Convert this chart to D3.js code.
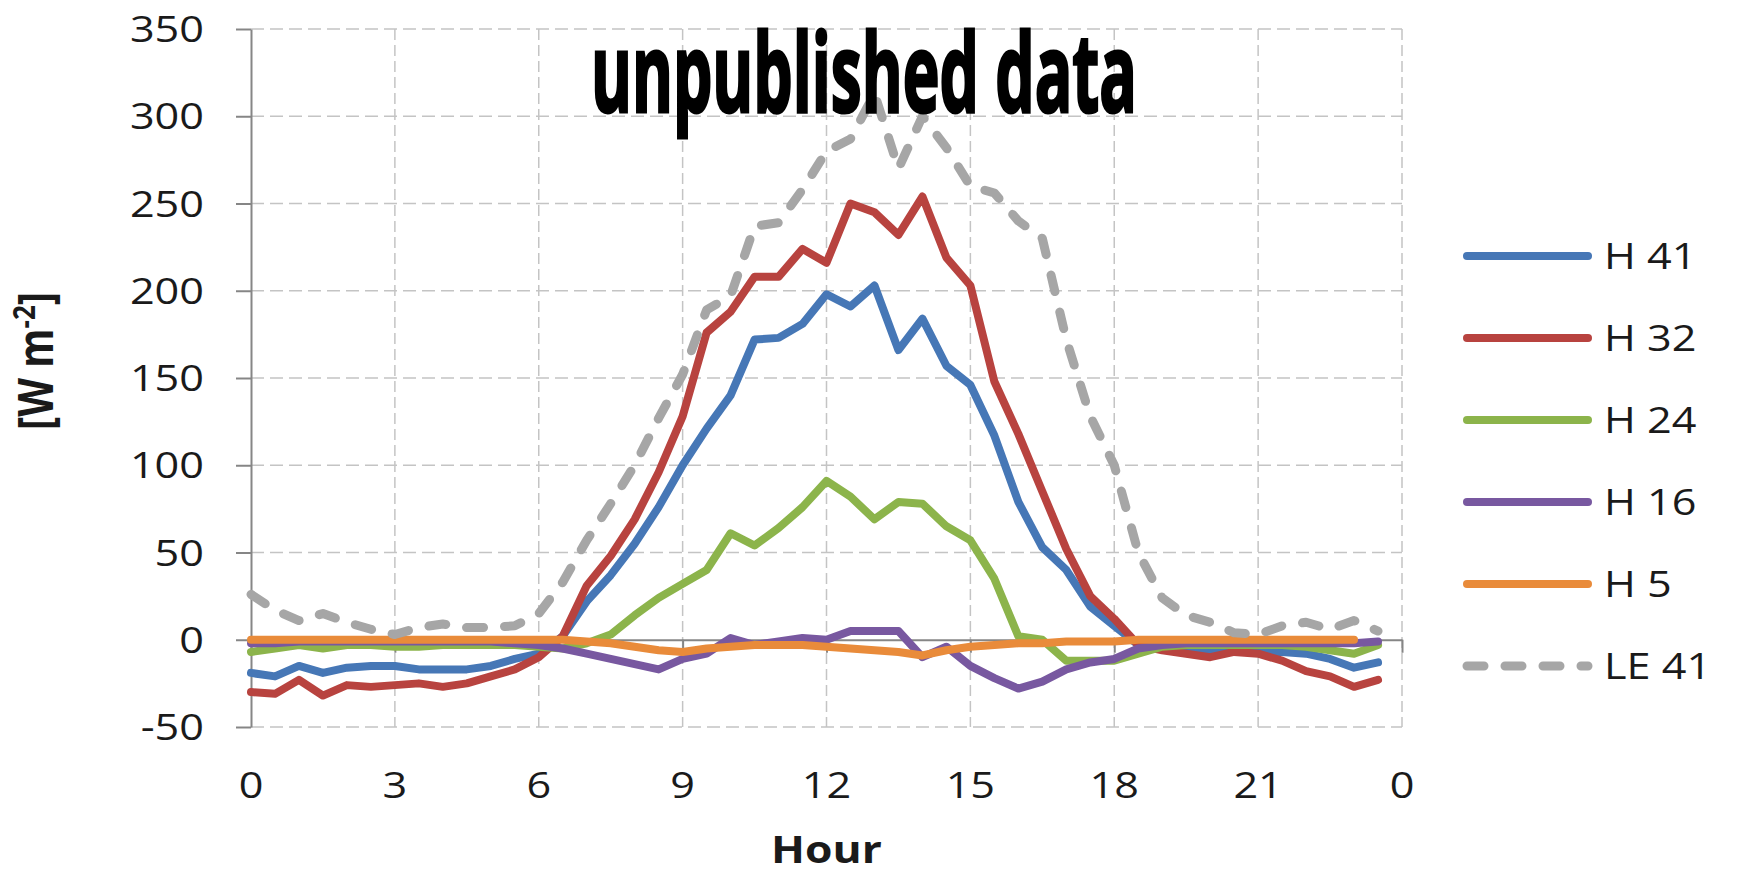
<!DOCTYPE html>
<html>
<head>
<meta charset="utf-8">
<script src="https://cdn.jsdelivr.net/npm/d3@7"></script>
<style>
  html, body { margin: 0; padding: 0; background: #ffffff; }
  svg { display: block; }
  text { font-family: "Open Sans", "Liberation Sans", sans-serif; fill: #1a1a1a; }
</style>
</head>
<body>
<svg id="chart" width="1746" height="869"></svg>
<script>
// Half-hourly time of day (hours)
const hours = [0, 0.5, 1, 1.5, 2, 2.5, 3, 3.5, 4, 4.5, 5, 5.5, 6, 6.5, 7, 7.5, 8, 8.5, 9, 9.5,
  10, 10.5, 11, 11.5, 12, 12.5, 13, 13.5, 14, 14.5, 15, 15.5, 16, 16.5, 17, 17.5, 18, 18.5, 19, 19.5,
  20, 20.5, 21, 21.5, 22, 22.5, 23, 23.5];

// Sensible heat flux at different heights, latent heat flux at 41 m [W m-2]
const h41 = [-19, -21, -15, -19, -16, -15, -15, -17, -17, -17, -15, -11, -8, 2, 22, 37, 55, 76, 100, 121,
  140, 172, 173, 181, 198, 191, 203, 166, 184, 157, 146, 117, 79, 53, 40, 19, 8, -3, -4, -4,
  -6, -6, -7, -7, -8, -11, -16, -13];
const h32 = [-30, -31, -23, -32, -26, -27, -26, -25, -27, -25, -21, -17, -10, 2, 31, 48, 69, 96, 128, 176,
  188, 208, 208, 224, 216, 250, 245, 232, 254, 219, 203, 148, 118, 85, 52, 25, 12, -3, -6, -8,
  -10, -7, -8, -12, -18, -21, -27, -23];
const h24 = [-7, -5, -3, -5, -3, -3, -4, -4, -3, -3, -3, -3, -4, -5, -2, 3, 14, 24, 32, 40,
  61, 54, 64, 76, 91, 82, 69, 79, 78, 65, 57, 35, 2, 0, -12, -12, -12, -8, -4, -3,
  -3, -3, -3, -3, -4, -6, -8, -3];
const h16 = [-2, -2, -1, -1, -1, -1, -1, -1, -1, -1, -1, -2, -3, -5, -8, -11, -14, -17, -11, -8,
  1, -3, -1, 1, 0, 5, 5, 5, -10, -4, -15, -22, -28, -24, -17, -13, -11, -5, -3, -2,
  -2, -2, -2, -2, -2, -2, -2, -1];
const h5 = [0, 0, 0, 0, 0, 0, 0, 0, 0, 0, 0, 0, 0, 0, -1, -2, -4, -6, -7, -5,
  -4, -3, -3, -3, -4, -5, -6, -7, -9, -6, -4, -3, -2, -2, -1, -1, -1, 0, 0, 0,
  0, 0, 0, 0, 0, 0, 0, null];
const le41 = [26, 17, 11, 15, 10, 6, 3, 7, 9, 7, 7, 8, 15, 33, 57, 78, 100, 127, 152, 189,
  197, 237, 239, 258, 280, 287, 313, 270, 300, 282, 260, 256, 240, 230, 172, 128, 100, 50, 24, 14,
  10, 4, 3, 8, 10, 6, 11, 5];

const seriesNames = ["H 41", "H 32", "H 24", "H 16", "H 5", "LE 41"];
const seriesValues = [h41, h32, h24, h16, h5, le41];
const seriesColors = ["#4677B6", "#B8433F", "#8CB44B", "#7858A0", "#E98B3A", "#A6A6A6"];
const seriesDashed = [false, false, false, false, false, true];

const yTicks = [-50, 0, 50, 100, 150, 200, 250, 300, 350];
const xTicks = [0, 3, 6, 9, 12, 15, 18, 21, 24];
const xTickLabels = ["0", "3", "6", "9", "12", "15", "18", "21", "0"];

const svg = d3.select("#chart");
const x = d3.scaleLinear().domain([0, 24]).range([251, 1402]);
const y = d3.scaleLinear().domain([-50, 350]).range([727, 29]);
const stretch = "scale(1.2,1)";
const axisColor = "#868686";
const gridColor = "#c4c4c4";
const solidWidth = 8;
const dashWidth = 9;
const dashPattern = "17,21";

// Gridlines
const grid = svg.append("g");
grid.selectAll("line.hg").data(yTicks.filter(v => v !== 0)).join("line")
  .attr("x1", x(0)).attr("x2", x(24))
  .attr("y1", d => y(d)).attr("y2", d => y(d))
  .attr("stroke", gridColor).attr("stroke-width", 1.5).attr("stroke-dasharray", "13,6");
grid.selectAll("line.vg").data(xTicks.filter(v => v !== 0)).join("line")
  .attr("x1", d => x(d)).attr("x2", d => x(d))
  .attr("y1", y(350)).attr("y2", y(-50))
  .attr("stroke", gridColor).attr("stroke-width", 1.5).attr("stroke-dasharray", "11,5");

// Y axis with outside ticks
const yAxis = d3.axisLeft(y).tickValues(yTicks).tickSize(15).tickSizeOuter(0).tickFormat("");
const gy = svg.append("g").attr("transform", `translate(${x(0)},0)`).call(yAxis);
gy.selectAll("path, line").attr("stroke", axisColor).attr("stroke-width", 2);

// X axis drawn through zero, ticks pointing down
const xAxis = d3.axisBottom(x).tickValues(xTicks).tickSize(13).tickSizeOuter(0).tickFormat("");
const gx = svg.append("g").attr("transform", `translate(0,${y(0)})`).call(xAxis);
gx.selectAll("path, line").attr("stroke", axisColor).attr("stroke-width", 2);

// Tick labels
svg.append("g").selectAll("text").data(yTicks).join("text")
  .attr("transform", d => `translate(204,${y(d) + 13}) ${stretch}`)
  .attr("text-anchor", "end").attr("font-size", 36)
  .text(d => d);
svg.append("g").selectAll("text").data(xTicks).join("text")
  .attr("transform", d => `translate(${x(d)},798) ${stretch}`)
  .attr("text-anchor", "middle").attr("font-size", 36)
  .text((d, i) => xTickLabels[i]);

// Axis titles
svg.append("text")
  .attr("transform", `translate(${x(12)},863) ${stretch}`)
  .attr("text-anchor", "middle").attr("font-size", 37).attr("font-weight", "bold")
  .text("Hour");
const yt = svg.append("text")
  .attr("transform", `translate(53,361) ${stretch} rotate(-90)`)
  .attr("text-anchor", "middle").attr("font-size", 40).attr("font-weight", "bold");
yt.append("tspan").text("[W m");
yt.append("tspan").attr("font-size", 26).attr("dy", -15).text("-2");
yt.append("tspan").attr("dy", 15).text("]");

// Series lines
const line = d3.line()
  .defined(d => d.v !== null)
  .x(d => x(d.h)).y(d => y(d.v));
const lines = svg.append("g");
seriesValues.forEach((vals, i) => {
  lines.append("path")
    .datum(hours.map((h, j) => ({ h: h, v: vals[j] })))
    .attr("d", line)
    .attr("fill", "none")
    .attr("stroke", seriesColors[i])
    .attr("stroke-width", seriesDashed[i] ? dashWidth : solidWidth)
    .attr("stroke-linejoin", "round")
    .attr("stroke-linecap", "round")
    .attr("stroke-dasharray", seriesDashed[i] ? dashPattern : null);
});

// Legend
const legend = svg.append("g");
seriesNames.forEach((name, i) => {
  const ly = 256 + i * 82;
  legend.append("line")
    .attr("x1", 1467).attr("x2", 1588).attr("y1", ly).attr("y2", ly)
    .attr("stroke", seriesColors[i])
    .attr("stroke-width", seriesDashed[i] ? dashWidth : solidWidth)
    .attr("stroke-linecap", "round")
    .attr("stroke-dasharray", seriesDashed[i] ? dashPattern : null);
  legend.append("text")
    .attr("transform", `translate(1604,${ly + 13}) ${stretch}`)
    .attr("font-size", 36)
    .text(name);
});

// Overlay caption
svg.append("text")
  .attr("x", 591).attr("y", 112)
  .attr("textLength", 546).attr("lengthAdjust", "spacingAndGlyphs")
  .attr("font-family", "DejaVu Sans")
  .attr("font-weight", "bold").attr("font-size", 110)
  .attr("stroke", "#000").attr("stroke-width", 3)
  .style("fill", "#000")
  .text("unpublished data");
</script>
</body>
</html>
